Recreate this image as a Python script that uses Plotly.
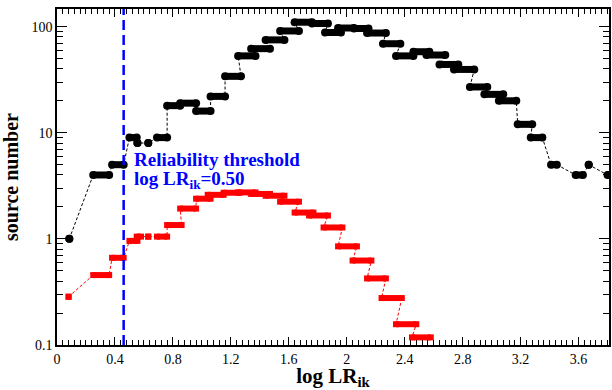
import plotly.graph_objects as go

# ---------------- data (plateaus: start, end, value) ----------------
black_x0 = [0.085, 0.25, 0.38, 0.50, 0.555, 0.63, 0.69, 0.76, 0.85, 0.96, 1.06, 1.16, 1.25, 1.34, 1.44,
            1.54, 1.64, 1.76, 1.85, 1.94, 2.05, 2.14, 2.25, 2.34, 2.46, 2.55, 2.64, 2.74, 2.85,
            2.95, 3.05, 3.18, 3.27, 3.41, 3.58, 3.67, 3.80]
black_x1 = [0.085, 0.36, 0.46, 0.55, 0.555, 0.63, 0.76, 0.85, 0.96, 1.06, 1.16, 1.27, 1.37, 1.47, 1.57,
            1.67, 1.76, 1.87, 1.96, 2.05, 2.15, 2.27, 2.37, 2.46, 2.57, 2.68, 2.77, 2.88, 2.97,
            3.08, 3.17, 3.28, 3.35, 3.45, 3.63, 3.67, 3.81]
black_y = [1.0, 4.0, 5.0, 9.0, 8.0, 8.0, 9.0, 18.0, 19.0, 16.0, 22.0, 34.0, 53.0, 62.0, 75.0,
           91.0, 110.0, 107.0, 88.0, 97.0, 96.0, 87.0, 69.0, 53.0, 58.0, 54.0, 44.0, 39.5, 27.0,
           23.0, 20.0, 12.0, 9.0, 5.0, 4.0, 5.0, 4.0]

red_x0 = [0.08, 0.25, 0.38, 0.50, 0.55, 0.63, 0.69, 0.76, 0.85, 0.96, 1.04, 1.15, 1.25, 1.34, 1.44,
          1.54, 1.64, 1.74, 1.84, 1.94, 2.04, 2.14, 2.24, 2.34, 2.45]
red_x1 = [0.08, 0.36, 0.46, 0.555, 0.58, 0.63, 0.76, 0.86, 0.96, 1.06, 1.15, 1.26, 1.37, 1.47, 1.57,
          1.67, 1.77, 1.87, 1.97, 2.07, 2.17, 2.27, 2.38, 2.48, 2.58]
red_y = [0.285, 0.456, 0.663, 0.957, 1.05, 1.05, 1.05, 1.35, 1.93, 2.39, 2.6, 2.72, 2.74, 2.65, 2.55,
         2.24, 1.77, 1.66, 1.28, 0.85, 0.625, 0.424, 0.277, 0.157, 0.118]

threshold_x = 0.46
label_line1 = "Reliability threshold"
label_line2 = "log LR<sub>ik</sub>=0.50"

x_ticks = [0, 0.4, 0.8, 1.2, 1.6, 2, 2.4, 2.8, 3.2, 3.6]
x_ticklabels = ["0", "0.4", "0.8", "1.2", "1.6", "2", "2.4", "2.8", "3.2", "3.6"]
y_ticks = [0.1, 1, 10, 100]
y_ticklabels = ["0.1", "1", "10", "100"]
y_minor = [m * d for d in (0.1, 1, 10, 100) for m in range(2, 10)]
x_minor = [round(i * 0.04, 2) for i in range(0, 96)]

FONT = "Liberation Serif"


def path(x0, x1, y):
    xs, ys = [], []
    for a, b, v in zip(x0, x1, y):
        xs += [a, b]
        ys += [v, v]
    return xs, ys


def segs(x0, x1, y):
    xs, ys = [], []
    for a, b, v in zip(x0, x1, y):
        xs += [a, b, None]
        ys += [v, v, None]
    return xs, ys


fig = go.Figure()

for x0, x1, yv, col, sym, msz, lw in [(black_x0, black_x1, black_y, "black", "circle", 8, 7),
                                       (red_x0, red_x1, red_y, "#ff0000", "square", 6, 6)]:
    px_, py_ = path(x0, x1, yv)
    fig.add_trace(go.Scatter(x=px_, y=py_, mode="lines",
                             line=dict(color=col, width=1, dash="3px,2px"),
                             hoverinfo="skip", showlegend=False))
    sx, sy = segs(x0, x1, yv)
    fig.add_trace(go.Scatter(x=sx, y=sy, mode="lines+markers",
                             line=dict(color=col, width=lw),
                             marker=dict(color=col, size=msz, symbol=sym, line=dict(width=0)),
                             hoverinfo="skip", showlegend=False))

fig.add_shape(type="line", xref="x", yref="paper", x0=threshold_x, x1=threshold_x, y0=0, y1=1,
              line=dict(color="#0000ff", width=2.5, dash="10px,5px"), layer="above")

fig.add_annotation(text="<b>" + label_line1 + "</b>", xref="x", yref="paper", x=0.515, y=0.553,
                   xanchor="left", yanchor="middle", showarrow=False,
                   font=dict(family=FONT, size=19, color="#0000ff"))
fig.add_annotation(text="<b>" + label_line2 + "</b>", xref="x", yref="paper", x=0.515, y=0.49,
                   xanchor="left", yanchor="middle", showarrow=False,
                   font=dict(family=FONT, size=19, color="#0000ff"))

fig.update_layout(
    width=612, height=390,
    margin=dict(l=57, r=1, t=9, b=45),
    paper_bgcolor="white", plot_bgcolor="white",
    font=dict(family=FONT, size=14, color="black"),
    xaxis=dict(range=[0, 3.81], tickmode="array", tickvals=x_ticks, ticktext=x_ticklabels,
               ticks="inside", ticklen=8, tickwidth=1, tickcolor="black",
               showline=True, linecolor="black", linewidth=1.5, mirror="allticks",
               showgrid=False, zeroline=False,
               minor=dict(tickmode="array", tickvals=x_minor, ticks="inside", ticklen=5,
                          tickwidth=1, tickcolor="black", showgrid=False),
               title=dict(text="<b>log LR<sub>ik</sub></b>", font=dict(size=21), standoff=4),
               tickfont=dict(size=14)),
    yaxis=dict(type="log", range=[-1, 2.166], tickmode="array", tickvals=y_ticks, ticktext=y_ticklabels,
               ticks="inside", ticklen=10, tickwidth=1, tickcolor="black",
               showline=True, linecolor="black", linewidth=1.5, mirror="allticks",
               showgrid=False, zeroline=False,
               minor=dict(tickmode="array", tickvals=y_minor, ticks="inside", ticklen=6,
                          tickwidth=1, tickcolor="black", showgrid=False),
               title=dict(text="<b>source number</b>", font=dict(size=20), standoff=8),
               tickfont=dict(size=14)),
)

fig.write_html("out.html")
